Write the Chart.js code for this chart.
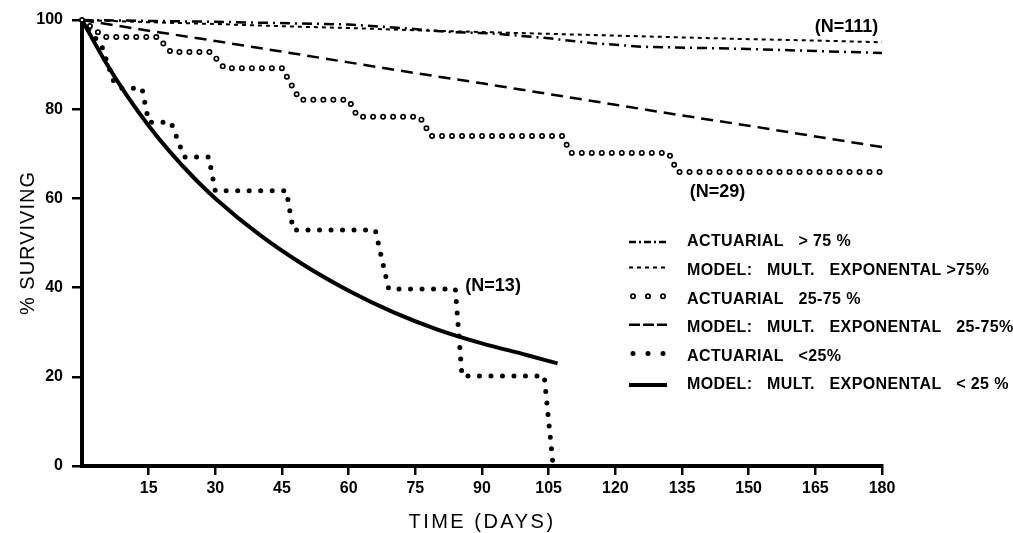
<!DOCTYPE html>
<html>
<head>
<meta charset="utf-8">
<script src="https://cdn.jsdelivr.net/npm/chart.js@4.4.0/dist/chart.umd.min.js"></script>
<style>
  body { margin: 0; background: #fff; }
  canvas { display: block; }
</style>
</head>
<body>
<canvas id="chart_survival" width="1013" height="533"></canvas>
<script>
// ----------------------------------------------------------------------
//  data (days, % surviving)
// ----------------------------------------------------------------------
const actHighDays = [0, 30, 60, 72, 83, 92, 104, 115, 126, 150, 180];
const actHighVals = [100, 99.6, 99.0, 98.2, 97.3, 97.0, 96.0, 94.8, 94.0, 93.5, 92.6];

const modelHighDays = [0, 15, 30, 45, 60, 75, 90, 105, 120, 135, 150, 165, 180];
const modelHighVals = [100, 99.5, 99.1, 98.6, 98.2, 97.7, 97.3, 96.9, 96.5, 96.1, 95.7, 95.4, 95.0];

const actMidDays = [0, 5, 17, 20, 29, 32, 45, 49, 60, 62, 76, 78.5, 108, 110, 132, 134, 180];
const actMidVals = [100, 96.2, 96.2, 92.8, 92.8, 89.2, 89.2, 82.1, 82.1, 78.3, 78.3, 74.0, 74.0, 70.2, 70.2, 65.9, 65.9];

const modelMidDays = [0, 15, 30, 45, 60, 75, 90, 105, 120, 135, 150, 165, 180];
const modelMidVals = [100, 97.6, 95.3, 92.9, 90.5, 88.1, 85.8, 83.4, 81.0, 78.6, 76.3, 73.9, 71.5];

const actLowDays = [0, 4.5, 7, 9, 13.5, 15, 20, 23, 28.5, 30, 46, 47.5, 66, 69, 84, 85.5, 104, 106];
const actLowVals = [100, 94, 86.5, 84.7, 84.7, 77.1, 77.1, 69.3, 69.3, 61.7, 61.7, 52.9, 52.9, 39.7, 39.7, 20.2, 20.2, 0];

const modelLowDays = [0, 5, 10, 15, 20, 25, 30, 40, 50, 60, 70, 80, 90, 100, 107];
const modelLowVals = [100, 91.1, 83.2, 76.3, 70.2, 64.8, 60.0, 51.8, 45.0, 39.3, 34.5, 30.6, 27.5, 24.9, 23.0];

const legendLabels = [
	'ACTUARIAL   > 75 %',
	'MODEL:   MULT.   EXPONENTAL >75%',
	'ACTUARIAL   25-75 %',
	'MODEL:   MULT.   EXPONENTAL   25-75%',
	'ACTUARIAL   <25%',
	'MODEL:   MULT.   EXPONENTAL   < 25 %'
];
const nLabels = ['(N=111)', '(N=29)', '(N=13)'];
const nLabelDays = [172, 143, 92.5];
const nLabelVals = [98.4, 61.4, 40.4];

const xTitle = 'TIME (DAYS)';
const yTitle = '% SURVIVING';

var pts = function(days, vals){
	return days.map(function(d, i){ return {x: d, y: vals[i]}; });
};

var FONT = '"Liberation Sans", Arial, sans-serif';

// ----------------------------------------------------------------------
//  datasets
// ----------------------------------------------------------------------
var datasets = [
	{ label: legendLabels[0], data: pts(actHighDays, actHighVals),
	  borderColor: '#000', borderWidth: 2.5, borderDash: [10, 5, 2, 5],
	  sample: { dash: [7, 3, 2, 3], width: 2.5 } },
	{ label: legendLabels[1], data: pts(modelHighDays, modelHighVals),
	  borderColor: '#000', borderWidth: 2, borderDash: [4, 4],
	  sample: { dash: [4, 4], width: 2 } },
	{ label: legendLabels[2], data: pts(actMidDays, actMidVals),
	  borderColor: '#000', borderWidth: 6, borderDash: [0, 10], borderCapStyle: 'round',
	  sample: { dash: [0, 15], width: 6, ring: true } },
	{ label: 'ring core', data: pts(actMidDays, actMidVals), order: 0,
	  borderColor: '#fff', borderWidth: 2.6, borderDash: [0, 10], borderCapStyle: 'round' },
	{ label: legendLabels[3], data: pts(modelMidDays, modelMidVals),
	  borderColor: '#000', borderWidth: 2.5, borderDash: [12, 7],
	  sample: { dash: [11, 3], width: 2.5 } },
	{ label: legendLabels[4], data: pts(actLowDays, actLowVals),
	  borderColor: '#000', borderWidth: 5, borderDash: [0, 11.5], borderCapStyle: 'round',
	  sample: { dash: [0, 15], width: 5 } },
	{ label: legendLabels[5], data: pts(modelLowDays, modelLowVals),
	  borderColor: '#000', borderWidth: 4, cubicInterpolationMode: 'monotone',
	  sample: { dash: [], width: 4 } }
];
datasets.forEach(function(ds){
	ds.pointRadius = 0;
	ds.fill = false;
	ds.clip = false;
	if (ds.order === undefined) ds.order = 1;
});

// ----------------------------------------------------------------------
//  legend, N labels and axis titles drawn on the canvas
// ----------------------------------------------------------------------
var paperText = {
	id: 'paperText',
	afterDraw: function(chart){
		var ctx = chart.ctx, area = chart.chartArea;
		var sx = chart.scales.x, sy = chart.scales.y;
		ctx.save();
		ctx.fillStyle = '#000';
		ctx.textBaseline = 'middle';

		// legend
		var items = datasets.filter(function(ds){ return ds.sample; });
		items.forEach(function(ds, i){
			var y = 242 + i * 28.6;
			var s = ds.sample;
			var ly = i === 0 || i === 5 ? y : y - 3;
			ctx.beginPath();
			ctx.setLineDash(s.dash);
			ctx.lineCap = s.dash.length && s.dash[0] === 0 ? 'round' : 'butt';
			ctx.lineWidth = s.width;
			ctx.strokeStyle = '#000';
			ctx.moveTo(s.dash[0] === 0 ? 633 : 629, ly);
			ctx.lineTo(667, ly);
			ctx.stroke();
			if (s.ring) {
				ctx.beginPath();
				ctx.lineWidth = 2.6;
				ctx.strokeStyle = '#fff';
				ctx.moveTo(633, ly);
				ctx.lineTo(667, ly);
				ctx.stroke();
			}
			ctx.setLineDash([]);
			ctx.font = 'bold 16px ' + FONT;
			ctx.letterSpacing = '0.4px';
			ctx.textAlign = 'left';
			ctx.fillText(ds.label, 687, y);
		});
		ctx.letterSpacing = '0px';

		// (N=..) labels
		ctx.font = 'bold 18px ' + FONT;
		ctx.textAlign = 'center';
		nLabels.forEach(function(t, i){
			ctx.fillText(t, sx.getPixelForValue(nLabelDays[i]), sy.getPixelForValue(nLabelVals[i]));
		});

		// axis titles
		ctx.font = '20px ' + FONT;
		ctx.letterSpacing = '2.5px';
		ctx.fillText(xTitle, (area.left + area.right) / 2, 522);
		ctx.letterSpacing = '1px';
		ctx.translate(28, (area.top + area.bottom) / 2);
		ctx.rotate(-Math.PI / 2);
		ctx.fillText(yTitle, 0, 0);
		ctx.restore();
	}
};

window.onload = function(){
	var ctx = document.getElementById('chart_survival').getContext('2d');
	var config = {
		type: 'line',
		data: { datasets: datasets },
		options: {
			responsive: false,
			animation: false,
			layout: { padding: { top: 20, right: 131, left: 0, bottom: 0 } },
			plugins: { legend: { display: false }, tooltip: { enabled: false } },
			scales: {
				x: {
					type: 'linear', min: 0, max: 180,
					afterFit: function(s){ s.height = 67; },
					border: { display: true, color: '#000', width: 4 },
					grid: {
						drawOnChartArea: false, drawTicks: true, tickLength: 9, lineWidth: 2.5,
						tickColor: function(c){ return c.tick && c.tick.value === 0 ? 'rgba(0,0,0,0)' : '#000'; }
					},
					ticks: {
						stepSize: 15, padding: 4, color: '#000', maxRotation: 0,
						font: { family: FONT, size: 16, weight: 'bold' },
						callback: function(v){ return v === 0 ? '' : v; }
					}
				},
				y: {
					min: 0, max: 100,
					afterFit: function(s){ s.width = 82; },
					border: { display: true, color: '#000', width: 4 },
					grid: { drawOnChartArea: false, drawTicks: true, tickLength: 10, lineWidth: 2.5, tickColor: '#000' },
					ticks: {
						stepSize: 20, padding: 9, color: '#000',
						font: { family: FONT, size: 16, weight: 'bold' }
					}
				}
			}
		},
		plugins: [paperText]
	};
	new Chart(ctx, config);
};
</script>
</body>
</html>
